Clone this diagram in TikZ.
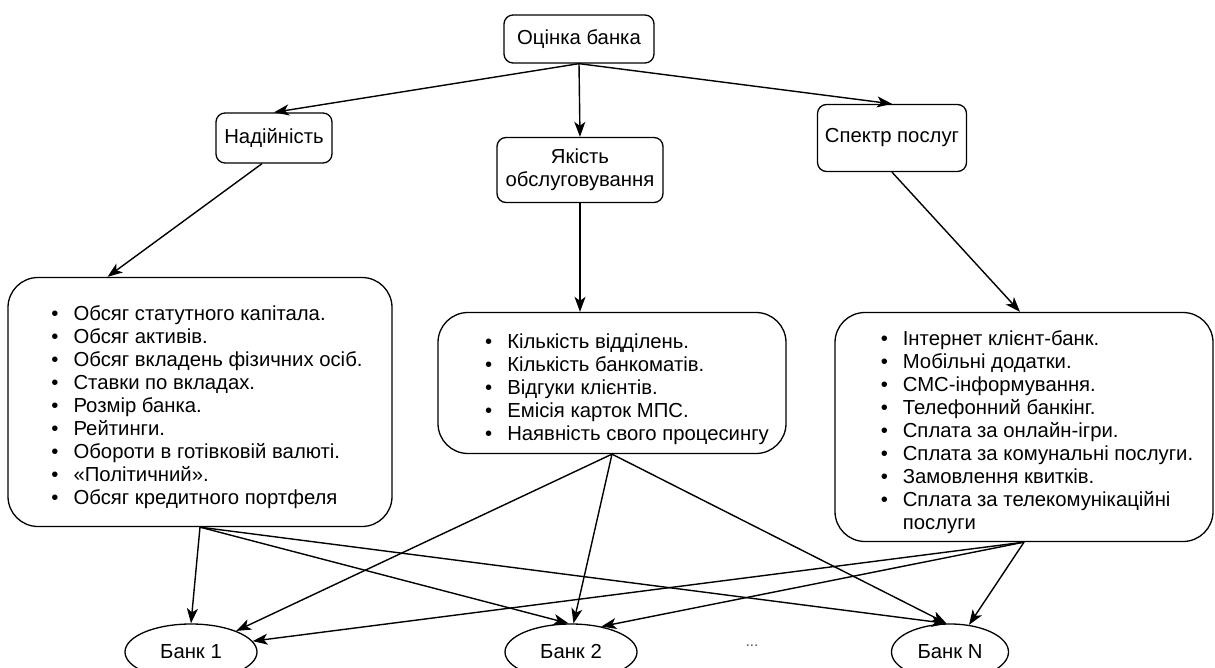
\documentclass[tikz,border=0pt]{standalone}
\usepackage{fontspec}
\setmainfont{Liberation Sans}
\usetikzlibrary{calc,arrows.meta,shapes.geometric}

\tikzset{
  box/.style={draw, line width=1.3pt, rounded corners=9pt, inner sep=2pt},
  bigbox/.style={draw, line width=1.3pt, rounded corners=30pt, inner sep=0pt},
  bank/.style={draw, ellipse, line width=1.3pt, inner sep=0pt, minimum height=56pt},
  conn/.style={line width=1.4pt, -{Stealth[length=15pt,width=11pt,inset=4pt]}}
}
\newcommand{\bl}{\textbullet}
% list content, moved right by #1 and down by #2
\newcommand{\listin}[3]{\hspace*{#1}\raisebox{-#2}[\height][\depth]{%
  \begin{tabular}{@{}l@{\hspace{15pt}}l@{}}#3\end{tabular}}}

\begin{document}
\begin{tikzpicture}[x=1pt, y=-1pt, font=\fontsize{20.3}{23}\selectfont]
  \useasboundingbox (0,0) rectangle (1215,668);

  \node[box, minimum width=150pt, minimum height=48pt] (ocinka) at (579,39) {Оцінка банка};
  \node[box, minimum width=116pt, minimum height=50pt] (nad) at (274,138) {Надійність};
  \node[box, minimum width=166pt, minimum height=65pt, align=center] (yakist) at (580,170) {Якість\\обслуговування};
  \node[box, minimum width=149pt, minimum height=67pt] (spektr) at (892,138) {Спектр послуг};

  \node[bigbox, minimum width=384pt, minimum height=249pt] (lbox) at (200,402) {\listin{14pt}{6pt}{
      \bl & Обсяг статутного капітала.\\
      \bl & Обсяг активів.\\
      \bl & Обсяг вкладень фізичних осіб.\\
      \bl & Ставки по вкладах.\\
      \bl & Розмір банка.\\
      \bl & Рейтинги.\\
      \bl & Обороти в готівковій валюті.\\
      \bl & «Політичний».\\
      \bl & Обсяг кредитного портфеля}};
  \node[bigbox, minimum width=348pt, minimum height=141pt] (mbox) at (612,383) {\listin{30pt}{7pt}{
      \bl & Кількість відділень.\\
      \bl & Кількість банкоматів.\\
      \bl & Відгуки клієнтів.\\
      \bl & Емісія карток МПС.\\
      \bl & Наявність свого процесингу}};
  \node[bigbox, minimum width=378pt, minimum height=229pt] (rbox) at (1024,427) {\listin{26pt}{6pt}{
      \bl & Інтернет клієнт-банк.\\
      \bl & Мобільні додатки.\\
      \bl & СМС-інформування.\\
      \bl & Телефонний банкінг.\\
      \bl & Сплата за онлайн-ігри.\\
      \bl & Сплата за комунальні послуги.\\
      \bl & Замовлення квитків.\\
      \bl & Сплата за телекомунікаційні\\
          & послуги}};

  \node[bank, minimum width=132pt] (b1) at (191,652) {Банк 1};
  \node[bank, minimum width=132pt] (b2) at (571,652) {Банк 2};
  \node[bank, minimum width=117pt] (bN) at (950,652) {Банк N};
  \node[font=\fontsize{15}{17}\selectfont, text=black!70] (dots) at (752,646) {...};

  % criteria
  \draw[conn] (ocinka.south) -- (nad.north);
  \draw[conn] (ocinka.south) -- (yakist.north);
  \draw[conn] (ocinka.south) -- (spektr.north);
  \draw[conn] ($(nad.south)+(-12,0)$) -- ($(lbox.north west)!0.26!(lbox.north east)$);
  \draw[conn] (yakist.south) -- (yakist.south |- mbox.north);
  \draw[conn] (spektr.south) -- ($(rbox.north)+(-4,0)$);

  % banks
  \foreach \src/\dst in {lbox/b1.north, lbox/b2.95, lbox/bN.97,
                         mbox/b1.25, mbox/b2.85, mbox/bN.97,
                         rbox/b1.10, rbox/b2.40, rbox/bN.55}
  {
  \draw[conn] (\src.south) -- (\dst);
  }
\end{tikzpicture}
\end{document}
